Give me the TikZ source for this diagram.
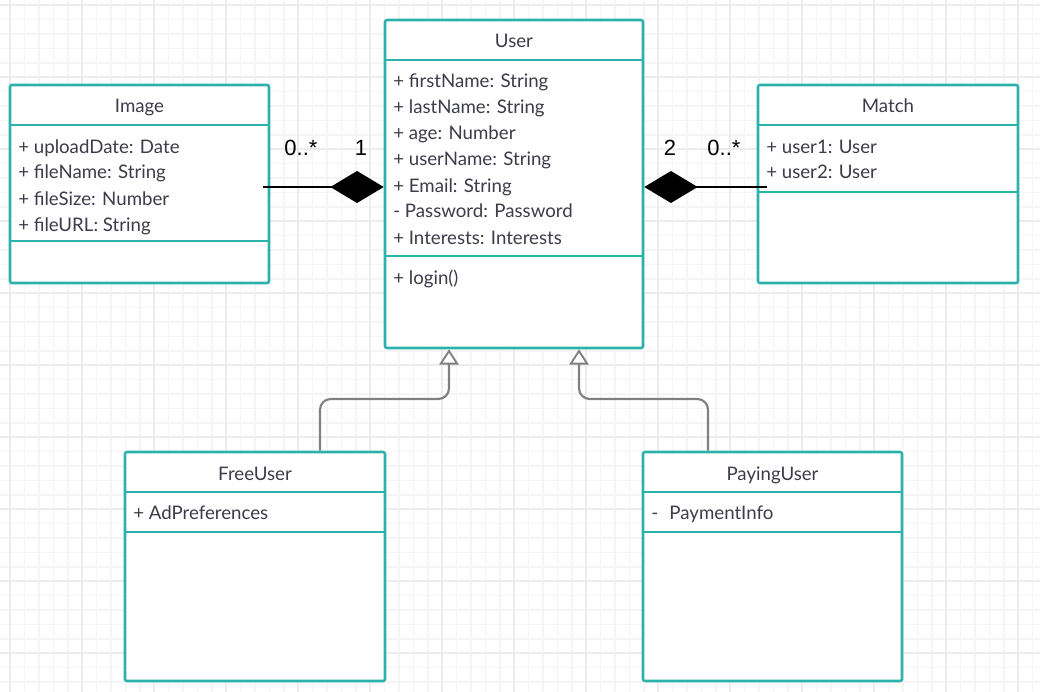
\documentclass[tikz,border=0pt]{standalone}
\usepackage{fontspec}
\setmainfont{Lato}
\newfontfamily\labelfont{Liberation Sans}
\usetikzlibrary{arrows.meta,fit}
\definecolor{teal1}{RGB}{44,178,172}
\definecolor{txt}{RGB}{60,60,74}
\definecolor{gminor}{RGB}{245,245,245}
\definecolor{gmajor}{RGB}{236,236,236}
\definecolor{genline}{RGB}{128,128,128}
\tikzset{
  classbox/.style={draw=teal1, line width=1.9pt, rounded corners=1.5pt, fill=white, inner sep=0pt},
  divider/.style={draw=teal1, line width=1.9pt},
  title/.style={anchor=base, inner sep=0pt, text=txt, font=\fontsize{14pt}{16pt}\selectfont},
  attr/.style={anchor=base west, inner sep=0pt, text=txt, font=\fontsize{14pt}{16pt}\selectfont},
  mult/.style={anchor=base, inner sep=0pt, text=black, font=\labelfont\fontsize{16.5pt}{18pt}\selectfont},
  assoc/.style={draw=black, line width=1.5pt, -{Diamond[length=40pt,width=24pt,fill=black]}},
  gen/.style={draw=genline, line width=1.6pt, rounded corners=8pt, -{Triangle[length=11.5pt,width=14.5pt,fill=white,line width=1.4pt]}}
}
\newcommand{\umlclass}[8]{%
  \coordinate (#1-nw) at (#2,#3);
  \coordinate (#1-se) at (#4,#5);
  \node[classbox, fit=(#1-nw)(#1-se)] (#1) {};
  \draw[divider] (#1.west |- 0,#6) -- (#1.east |- 0,#6);
  \draw[divider] (#1.west |- 0,#7) -- (#1.east |- 0,#7);
  \node[title] (#1-title) at ({(#2+#4)/2},{#6-12}) {#8};
}
\begin{document}
\begin{tikzpicture}[x=0.75pt,y=-0.75pt]
\useasboundingbox (0,0) rectangle (1040,692);
\fill[white] (0,0) rectangle (1040,692);
% grid
\foreach \k in {-1,...,71} {\draw[gminor, line width=1.1pt] ({10.3+14.4*\k},0) -- ({10.3+14.4*\k},692);}
\foreach \k in {-1,...,48} {\draw[gminor, line width=1.1pt] (0,{5.3+14.4*\k}) -- (1040,{5.3+14.4*\k});}
\foreach \k in {0,...,14} {\draw[gmajor, line width=1.5pt] ({10.3+72*\k},0) -- ({10.3+72*\k},692);}
\foreach \k in {0,...,9} {\draw[gmajor, line width=1.5pt] (0,{5.3+72*\k}) -- (1040,{5.3+72*\k});}

% classes
\umlclass{user}{385}{20}{643}{348}{60}{256}{User}
\node[attr] (u1) at (393,88) {+ firstName: String};
\node[attr] (u2) at (393,114) {+ lastName: String};
\node[attr] (u3) at (393,140) {+ age: Number};
\node[attr] (u4) at (393,166) {+ userName: String};
\node[attr] (u5) at (393,192) {+ Email: String};
\node[attr] (u6) at (393,218) {- Password: Password};
\node[attr] (u7) at (393,244) {+ Interests: Interests};
\node[attr] (u8) at (393,284) {+ login()};

\umlclass{image}{10}{85}{269}{283}{125}{241}{Image}
\node[attr] (i1) at (18,153) {+ uploadDate: Date};
\node[attr] (i2) at (18,179) {+ fileName: String};
\node[attr] (i3) at (18,205) {+ fileSize: Number};
\node[attr] (i4) at (18,231) {+ fileURL: String};

\umlclass{match}{758}{85}{1018}{283}{125}{192}{Match}
\node[attr] (m1) at (766,153) {+ user1: User};
\node[attr] (m2) at (766,179) {+ user2: User};

\umlclass{free}{125}{452}{385}{681}{492}{532}{FreeUser}
\node[attr] (f1) at (133,519) {+ AdPreferences};

\umlclass{paying}{643}{452}{902}{681}{492}{532}{PayingUser}
\node[attr] (p1) at (651,519) {-\hspace{0.6em}PaymentInfo};

% associations
\coordinate (imgend) at (263,187);
\coordinate (matchend) at (767,187);
\draw[assoc] (imgend) -- (user.west |- imgend);
\draw[assoc] (matchend) -- (user.east |- matchend);
\node[mult] (l1) at (301,156) {0..*};
\node[mult] (l2) at (361,156) {1};
\node[mult] (l3) at (670,156) {2};
\node[mult] (l4) at (724,156) {0..*};

% generalizations
\coordinate (fb) at (320,399);
\coordinate (ft) at (449,399);
\coordinate (pb) at (708,399);
\coordinate (pt) at (579,399);
\draw[gen] (free.north -| fb) -- (fb) -- (ft) -- (user.south -| ft);
\draw[gen] (paying.north -| pb) -- (pb) -- (pt) -- (user.south -| pt);
\end{tikzpicture}
\end{document}
